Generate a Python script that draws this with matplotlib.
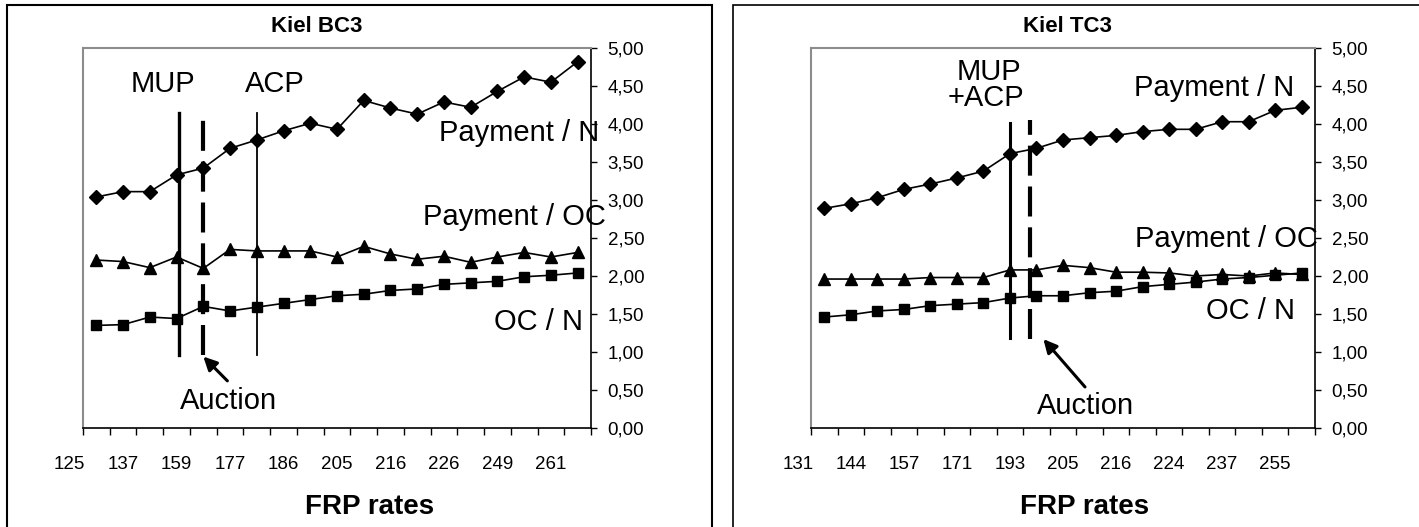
import matplotlib
matplotlib.use("Agg")
import matplotlib.pyplot as plt
from matplotlib.patches import Rectangle
import numpy as np

plt.rcParams['font.family'] = ['Liberation Sans', 'DejaVu Sans']

# Kiel BC3 (19 FRP rate categories)
bc3_ticklabels = ['125', '137', '159', '177', '186', '205', '216', '226', '249', '261']
bc3_pay_n = [3.04, 3.11, 3.11, 3.33, 3.42, 3.68, 3.79, 3.91, 4.01, 3.93,
             4.31, 4.21, 4.13, 4.29, 4.22, 4.43, 4.62, 4.55, 4.82]
bc3_pay_oc = [2.21, 2.19, 2.11, 2.25, 2.10, 2.35, 2.33, 2.33, 2.33, 2.25,
              2.39, 2.29, 2.22, 2.26, 2.18, 2.25, 2.31, 2.25, 2.31]
bc3_oc_n = [1.35, 1.36, 1.46, 1.44, 1.60, 1.54, 1.59, 1.64, 1.69, 1.74,
            1.76, 1.81, 1.83, 1.89, 1.91, 1.93, 1.99, 2.01, 2.04]

# Kiel TC3
tc3_ticklabels = ['131', '144', '157', '171', '193', '205', '216', '224', '237', '255']
tc3_pay_n = [2.89, 2.95, 3.03, 3.14, 3.21, 3.29, 3.38, 3.61, 3.68, 3.79,
             3.82, 3.85, 3.90, 3.93, 3.93, 4.03, 4.03, 4.18, 4.22]
tc3_pay_oc = [1.96, 1.96, 1.96, 1.96, 1.98, 1.98, 1.98, 2.08, 2.08, 2.14,
              2.11, 2.05, 2.05, 2.04, 2.00, 2.02, 2.00, 2.04, 2.02]
tc3_oc_n = [1.46, 1.49, 1.54, 1.56, 1.61, 1.63, 1.65, 1.71, 1.74, 1.74,
            1.78, 1.80, 1.86, 1.89, 1.92, 1.96, 1.98, 2.01, 2.04]

W, H = 1419, 527
fig = plt.figure(figsize=(W / 100, H / 100), dpi=100)

# panel borders
fig.patches.append(Rectangle((7 / W, -0.1), 705 / W, (522 / H) + 0.1, transform=fig.transFigure,
                             fill=False, edgecolor='black', linewidth=1.5))
fig.patches.append(Rectangle((733 / W, -0.1), 705 / W, (522 / H) + 0.1, transform=fig.transFigure,
                             fill=False, edgecolor='black', linewidth=1.2))

label_fs = 21
tick_fs = 13.5


def setup_axes(ax, n, ticklabels):
    x = np.arange(n)
    ax.set_xlim(-0.5, n - 0.5)
    ax.set_ylim(0, 5)
    ax.yaxis.tick_right()
    yt = np.arange(0, 5.01, 0.5)
    ax.set_yticks(yt)
    ax.set_yticklabels([('%.2f' % v).replace('.', ',') for v in yt], fontsize=tick_fs)
    ax.tick_params(axis='y', direction='out', length=4, width=1, pad=8)
    ax.set_xticks(np.arange(-0.5, n, 1.0))
    ax.set_xticklabels([])
    ax.tick_params(axis='x', direction='out', length=5, width=1)
    for s in ['left', 'top']:
        ax.spines[s].set_color('#8c8c8c')
        ax.spines[s].set_linewidth(1.5)
    for s in ['right', 'bottom']:
        ax.spines[s].set_color('black')
        ax.spines[s].set_linewidth(1.2)
    # category labels sit on every other category, starting one before the first
    for i, lab in enumerate(ticklabels):
        ax.text(-1 + 2 * i, -0.095, lab, transform=ax.get_xaxis_transform(),
                ha='center', va='center', fontsize=tick_fs, clip_on=False)
    return x


def draw_series(ax, x, pay_n, pay_oc, oc_n):
    ax.plot(x, pay_n, color='black', lw=1.2, marker='D', ms=7, zorder=3)
    ax.plot(x, pay_oc, color='black', lw=1.2, marker='^', ms=8.5, zorder=3)
    ax.plot(x, oc_n, color='black', lw=1.2, marker='s', ms=7, zorder=3)


# ---- left: Kiel BC3
ax1 = fig.add_axes([83 / W, 1 - 428 / H, 508 / W, 380 / H])
x1 = setup_axes(ax1, len(bc3_pay_n), bc3_ticklabels)
draw_series(ax1, x1, bc3_pay_n, bc3_pay_oc, bc3_oc_n)
ax1.plot([3.08, 3.08], [0.96, 4.14], color='black', lw=2.4, zorder=4)
ax1.plot([4.0, 4.0], [0.96, 4.14], color='black', lw=3.0, dashes=(7.2, 2.6), zorder=4)
ax1.plot([6.0, 6.0], [0.96, 4.14], color='black', lw=1.3, zorder=4)
ax1.text(2.49, 4.52, 'MUP', fontsize=label_fs, ha='center', va='center')
ax1.text(6.68, 4.52, 'ACP', fontsize=label_fs, ha='center', va='center')
ax1.text(15.83, 3.88, 'Payment / N', fontsize=label_fs, ha='center', va='center', clip_on=False)
ax1.text(15.62, 2.78, 'Payment / OC', fontsize=label_fs, ha='center', va='center', clip_on=False)
ax1.text(16.55, 1.39, 'OC / N', fontsize=label_fs, ha='center', va='center')
ax1.text(4.96, 0.36, 'Auction', fontsize=label_fs, ha='center', va='center')
ax1.annotate('', xy=(4.0, 0.94), xytext=(4.9, 0.62),
             arrowprops=dict(arrowstyle='-|>', color='black', lw=2.2, mutation_scale=20,
                             shrinkA=0, shrinkB=0))
fig.text(317 / W, 1 - 26 / H, 'Kiel BC3', fontsize=16, fontweight='bold', ha='center', va='center')
fig.text(370 / W, 1 - 507 / H, 'FRP rates', fontsize=20, fontweight='bold', ha='center', va='center')

# ---- right: Kiel TC3
ax2 = fig.add_axes([811 / W, 1 - 428 / H, 504 / W, 380 / H])
x2 = setup_axes(ax2, len(tc3_pay_n), tc3_ticklabels)
draw_series(ax2, x2, tc3_pay_n, tc3_pay_oc, tc3_oc_n)
ax2.plot([7.0, 7.0], [1.18, 4.01], color='black', lw=2.2, zorder=4)
ax2.plot([7.75, 7.75], [1.17, 4.05], color='black', lw=3.0, dashes=(7.2, 2.6), zorder=4)
ax2.text(6.21, 4.69, 'MUP', fontsize=label_fs, ha='center', va='center')
ax2.text(6.10, 4.34, '+ACP', fontsize=label_fs, ha='center', va='center')
ax2.text(14.71, 4.47, 'Payment / N', fontsize=label_fs, ha='center', va='center')
ax2.text(15.15, 2.49, 'Payment / OC', fontsize=label_fs, ha='center', va='center', clip_on=False)
ax2.text(16.05, 1.54, 'OC / N', fontsize=label_fs, ha='center', va='center')
ax2.text(9.83, 0.29, 'Auction', fontsize=label_fs, ha='center', va='center')
ax2.annotate('', xy=(8.26, 1.17), xytext=(9.83, 0.54),
             arrowprops=dict(arrowstyle='-|>', color='black', lw=2.2, mutation_scale=20,
                             shrinkA=0, shrinkB=0))
fig.text(1067 / W, 1 - 26 / H, 'Kiel TC3', fontsize=16, fontweight='bold', ha='center', va='center')
fig.text(1085 / W, 1 - 507 / H, 'FRP rates', fontsize=20, fontweight='bold', ha='center', va='center')

fig.savefig('out.png', dpi=100)
